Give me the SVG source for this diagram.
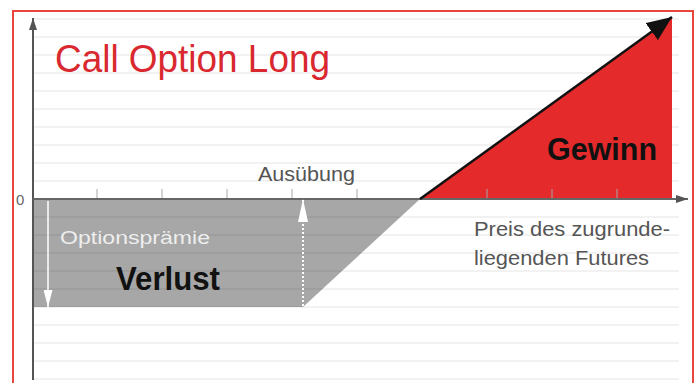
<svg xmlns="http://www.w3.org/2000/svg" width="697" height="383" viewBox="0 0 697 383">
<defs>
<style>
.grid line{stroke:#000;stroke-opacity:0.1;stroke-width:1.2}
.tick line{stroke:#a8a8a8;stroke-width:1}
.lbl{font-family:"Liberation Sans","DejaVu Sans",sans-serif}
.gray{fill:#555}
.bold{font-weight:bold;fill:#111}
</style>
<marker id="axhead" viewBox="0 0 12 8" refX="12" refY="4" markerWidth="12" markerHeight="8" markerUnits="userSpaceOnUse" orient="auto"><path d="M0,0 L12,4 L0,8 z" fill="#555"/></marker>
<marker id="bighead" viewBox="0 0 25 21" refX="25" refY="10.5" markerWidth="25" markerHeight="21" markerUnits="userSpaceOnUse" orient="auto"><path d="M0,0 L25,10.5 L0,21 z" fill="#111"/></marker>
<marker id="whead" viewBox="0 0 17 9" refX="17" refY="4.5" markerWidth="17" markerHeight="9" markerUnits="userSpaceOnUse" orient="auto"><path d="M0,0 L17,4.5 L0,9 z" fill="#fff"/></marker>
<marker id="whead2" viewBox="0 0 23 10" refX="23" refY="5" markerWidth="23" markerHeight="10" markerUnits="userSpaceOnUse" orient="auto"><path d="M0,0 L23,5 L0,10 z" fill="#fff"/></marker>
</defs>
<rect x="0" y="0" width="697" height="383" fill="#fff"/>
<rect id="frame" x="13" y="11" width="680" height="380" fill="#fff" stroke="#e8453c" stroke-width="2"/>
<g id="verlust-area"><polygon points="33,199 420,199 303,307 33,307" fill="#a7a7a7"/></g>
<g class="grid">
<line x1="33" y1="19" x2="679" y2="19"/><line x1="33" y1="37" x2="679" y2="37"/><line x1="33" y1="55" x2="679" y2="55"/><line x1="33" y1="73" x2="679" y2="73"/><line x1="33" y1="91" x2="679" y2="91"/><line x1="33" y1="109" x2="679" y2="109"/><line x1="33" y1="127" x2="679" y2="127"/><line x1="33" y1="145" x2="679" y2="145"/><line x1="33" y1="163" x2="679" y2="163"/><line x1="33" y1="181" x2="679" y2="181"/>
<line x1="33" y1="217" x2="679" y2="217"/><line x1="33" y1="235" x2="679" y2="235"/><line x1="33" y1="253" x2="679" y2="253"/><line x1="33" y1="271" x2="679" y2="271"/><line x1="33" y1="289" x2="679" y2="289"/><line x1="33" y1="307" x2="679" y2="307"/><line x1="33" y1="325" x2="679" y2="325"/><line x1="33" y1="343" x2="679" y2="343"/><line x1="33" y1="361" x2="679" y2="361"/><line x1="33" y1="379" x2="679" y2="379"/>
</g>
<g id="gewinn-area"><polygon points="420,199 672,18 672,199" fill="#e42a2b"/></g>
<g class="tick">
<line x1="97" y1="189" x2="97" y2="199"/><line x1="162" y1="189" x2="162" y2="199"/><line x1="227" y1="189" x2="227" y2="199"/><line x1="292" y1="189" x2="292" y2="199"/><line x1="357" y1="189" x2="357" y2="199"/><line x1="487" y1="189" x2="487" y2="199"/><line x1="552" y1="189" x2="552" y2="199"/><line x1="617" y1="189" x2="617" y2="199"/>
</g>
<g id="connectors">
<line x1="33" y1="380" x2="33" y2="18" stroke="#555" stroke-width="2" marker-end="url(#axhead)"/>
<line x1="33" y1="199" x2="688" y2="199" stroke="#666" stroke-width="2" marker-end="url(#axhead)"/>
<line x1="420" y1="199" x2="672" y2="17" stroke="#111" stroke-width="2.5" marker-end="url(#bighead)"/>
<line x1="48" y1="201" x2="48" y2="307" stroke="#fff" stroke-width="1.5" marker-end="url(#whead)"/>
<line x1="303" y1="306" x2="303" y2="199" stroke="#fff" stroke-width="2" stroke-dasharray="2 2" marker-end="url(#whead2)"/>
</g>
<g id="title"><text class="lbl" x="55" y="72" font-size="38" fill="#d9282f" textLength="275" lengthAdjust="spacingAndGlyphs">Call Option Long</text></g>
<g id="zero"><text class="lbl" x="16" y="205" font-size="15" fill="#666">0</text></g>
<g id="ausuebung"><text class="lbl gray" x="258" y="181" font-size="20" textLength="97" lengthAdjust="spacingAndGlyphs">Ausübung</text></g>
<g id="gewinn"><text class="lbl bold" x="547" y="160" font-size="31" textLength="110" lengthAdjust="spacingAndGlyphs">Gewinn</text></g>
<g id="optionspraemie"><text class="lbl" x="60" y="244" font-size="19" fill="#eeeeee" textLength="150" lengthAdjust="spacingAndGlyphs">Optionsprämie</text></g>
<g id="verlust"><text class="lbl bold" x="116" y="290" font-size="33" textLength="104" lengthAdjust="spacingAndGlyphs">Verlust</text></g>
<g id="preis">
<text class="lbl gray" x="474" y="236" font-size="20" textLength="196" lengthAdjust="spacingAndGlyphs">Preis des zugrunde-</text>
<text class="lbl gray" x="474" y="265" font-size="20" textLength="175" lengthAdjust="spacingAndGlyphs">liegenden Futures</text>
</g>
</svg>
